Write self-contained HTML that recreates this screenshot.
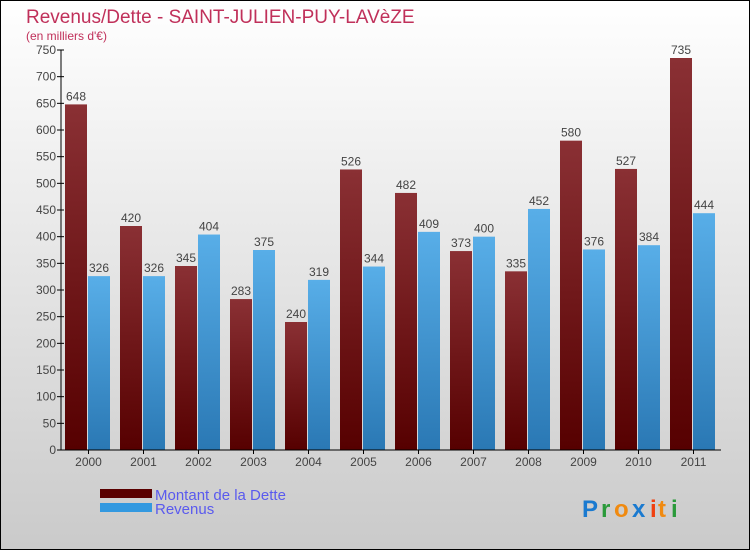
<!DOCTYPE html>
<html><head><meta charset="utf-8"><style>
body{margin:0;}
#c{position:relative;width:750px;height:550px;overflow:hidden;}
svg{display:block;font-family:"Liberation Sans",sans-serif;}
</style></head><body>
<div id="c">
<svg id="s" width="750" height="550" xmlns="http://www.w3.org/2000/svg">
<defs>
<linearGradient id="bg" x1="0" y1="0" x2="0" y2="1"><stop offset="0" stop-color="#ffffff"/><stop offset="1" stop-color="#cacaca"/></linearGradient>
<linearGradient id="gd" x1="0" y1="0" x2="0" y2="1"><stop offset="0" stop-color="#8a3034"/><stop offset="1" stop-color="#560000"/></linearGradient>
<linearGradient id="gr" x1="0" y1="0" x2="0" y2="1"><stop offset="0" stop-color="#58aee8"/><stop offset="1" stop-color="#2a78b4"/></linearGradient>
</defs>
<rect x="0.5" y="0.5" width="749" height="549" fill="url(#bg)" stroke="#000"/>
<text x="26" y="23" font-size="19" fill="#c0305a">Revenus/Dette - SAINT-JULIEN-PUY-LAVèZE</text>
<text x="26" y="40" font-size="12" fill="#c0305a">(en milliers d'€)</text>
<g id="plot"></g>
<rect x="100" y="489" width="52" height="9" fill="#5a0000"/>
<rect x="100" y="503" width="52" height="9" fill="#3399e0"/>
<text x="155" y="500" font-size="15" fill="#5a5aee">Montant de la Dette</text>
<text x="155" y="514" font-size="15" fill="#5a5aee">Revenus</text>
<g font-size="24" font-weight="bold">
<text x="582" y="517" fill="#1a7ad0">P</text><text x="601" y="517" fill="#2a9a3a">r</text><text x="614" y="517" fill="#f08a10">o</text><text x="632" y="517" fill="#1a7ad0">x</text><text x="650" y="517" fill="#f04010">i</text><text x="658" y="517" fill="#f08a10">t</text><text x="671" y="517" fill="#2a9a3a">i</text>
</g>
</svg>
</div>
<script>
const years=["2000","2001","2002","2003","2004","2005","2006","2007","2008","2009","2010","2011"];
const dette=[648,420,345,283,240,526,482,373,335,580,527,735];
const revenus=[326,326,404,375,319,344,409,400,452,376,384,444];
const ticks=[0,50,100,150,200,250,300,350,400,450,500,550,600,650,700,750];
const NS="http://www.w3.org/2000/svg";
const g=document.getElementById('plot');
const x0=61,x1=721,y0=450,yTop=50,maxV=750;
const gw=(x1-x0)/years.length;
function y(v){return y0-(v/maxV)*(y0-yTop);}
function mk(t,a,txt){const e=document.createElementNS(NS,t);for(const k in a)e.setAttribute(k,a[k]);if(txt!==undefined)e.textContent=txt;g.appendChild(e);return e;}
years.forEach((yr,i)=>{
 const gx=x0+i*gw;
 let r=mk('rect',{x:gx+4,y:y(dette[i]),width:22,height:y0-y(dette[i]),fill:'url(#gd)'});
 
 
 let b=mk('rect',{x:gx+27,y:y(revenus[i]),width:22,height:y0-y(revenus[i]),fill:'url(#gr)'});
 
 
 let t1=mk('text',{x:gx+15,y:y(dette[i])-4,'font-size':12,fill:'#444','text-anchor':'middle'},dette[i]);
 
 
 let t2=mk('text',{x:gx+38,y:y(revenus[i])-4,'font-size':12,fill:'#444','text-anchor':'middle'},revenus[i]);
 
 
 let xl=mk('text',{x:gx+gw/2,y:466,'font-size':12,fill:'#444','text-anchor':'middle'},yr);
 
 
 mk('line',{x1:gx+gw/2,x2:gx+gw/2,y1:450,y2:454,stroke:'#000'});
});
ticks.forEach(v=>{
 mk('line',{x1:x0-4,x2:x0+3,y1:y(v),y2:y(v),stroke:'#000'});
 let t=mk('text',{x:x0-5,y:y(v)+4,'font-size':12,fill:'#444','text-anchor':'end'},v);
 
 
});
let ya=mk('line',{x1:x0,x2:x0,y1:yTop,y2:y0,stroke:'#000'});


let xa=mk('line',{x1:x0,x2:x1,y1:y0,y2:y0,stroke:'#000'});


</script>
</body></html>
